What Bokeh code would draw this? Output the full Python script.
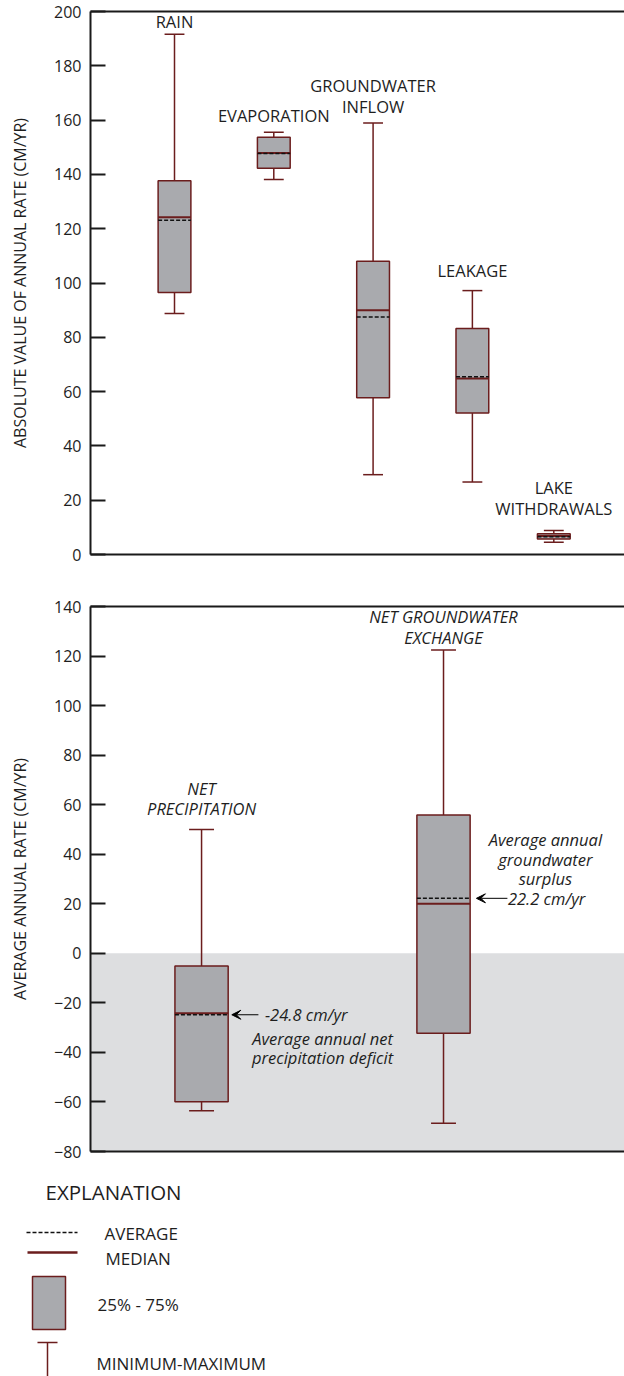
from bokeh.plotting import figure
from bokeh.models import Range1d, LinearAxis, FixedTicker, Arrow, VeeHead, BoxAnnotation, ColumnDataSource
from bokeh.layouts import column
from bokeh.transform import dodge
from bokeh.embed import file_html
from bokeh.resources import INLINE
from bokeh.core.properties import value

# ---------------- data ----------------
top_labels = ["RAIN", "EVAPORATION", "GROUNDWATER\nINFLOW", "LEAKAGE", "LAKE\nWITHDRAWALS"]
top_min = [88.8, 138.1, 29.4, 26.7, 4.5]
top_q1 = [96.5, 142.3, 57.7, 52.1, 5.7]
top_median = [124.2, 147.9, 90.0, 64.8, 6.8]
top_mean = [123.1, 147.7, 87.5, 65.5, 6.5]
top_q3 = [137.7, 153.7, 108.0, 83.2, 7.6]
top_max = [191.6, 155.5, 158.9, 97.2, 8.8]
top_ticks = [0, 20, 40, 60, 80, 100, 120, 140, 160, 180, 200]

bot_labels = ["NET\nPRECIPITATION", "NET GROUNDWATER\nEXCHANGE"]
bot_min = [-63.6, -68.6]
bot_q1 = [-59.9, -32.3]
bot_median = [-24.2, 20.0]
bot_mean = [-24.8, 22.2]
bot_q3 = [-5.1, 55.8]
bot_max = [50.0, 122.4]
bot_ticks = [-80, -60, -40, -20, 0, 20, 40, 60, 80, 100, 120, 140]

# ---------------- style ----------------
FONT = "Open Sans"
MAROON = "#6b1d1d"
BOX_FILL = "#a9aaae"
SHADE = "#dddee0"
TXT = "#1e1e1e"

top_pos = [1, 2, 3, 4, 4.82]
top_gap = [-1, -5, -5, -9, -11]
bot_pos = [1, 2]
bot_gap = [-9, -1]


def frame_line(p, where):
    ax = LinearAxis(ticker=FixedTicker(ticks=[]), axis_line_width=2, axis_line_color="#1a1a1a",
                    major_tick_line_color=None, minor_tick_line_color=None,
                    major_label_text_font_size="0px", major_label_standoff=0)
    p.add_layout(ax, where)


def style_y(p, ticks, label):
    ax = p.yaxis[0]
    ax.ticker = FixedTicker(ticks=ticks)
    ax.major_tick_in = 15
    ax.major_tick_out = 0
    ax.major_tick_line_width = 2
    ax.major_tick_line_color = "#1a1a1a"
    ax.minor_tick_line_color = None
    ax.axis_line_width = 2
    ax.axis_line_color = "#1a1a1a"
    ax.major_label_text_font = FONT
    ax.major_label_text_font_size = "16px"
    ax.major_label_text_color = TXT
    ax.major_label_standoff = 9
    ax.axis_label = label
    ax.axis_label_text_font = FONT
    ax.axis_label_text_font_size = "16px"
    ax.axis_label_text_font_style = "normal"
    ax.axis_label_text_color = TXT
    ax.axis_label_standoff = 20


def make_fig(height, xr, yr, top_border, bottom_border):
    p = figure(width=624, height=height, output_backend="svg", toolbar_location=None,
               x_range=xr, y_range=yr, x_axis_location=None,
               min_border_left=90, min_border_right=0,
               min_border_top=top_border, min_border_bottom=bottom_border)
    p.xgrid.visible = False
    p.ygrid.visible = False
    p.outline_line_color = None
    p.background_fill_color = "white"
    p.border_fill_color = "white"
    return p


def draw_boxes(p, src, bw, cw):
    p.segment(x0="x", y0="q3", x1="x", y1="max", source=src, line_color=MAROON, line_width=1.5)
    p.segment(x0="x", y0="min", x1="x", y1="q1", source=src, line_color=MAROON, line_width=1.5)
    p.segment(x0=dodge("x", -cw / 2), y0="max", x1=dodge("x", cw / 2), y1="max", source=src,
              line_color=MAROON, line_width=1.5)
    p.segment(x0=dodge("x", -cw / 2), y0="min", x1=dodge("x", cw / 2), y1="min", source=src,
              line_color=MAROON, line_width=1.5)
    p.vbar(x="x", width=bw, bottom="q1", top="q3", source=src, fill_color=BOX_FILL,
           line_color=MAROON, line_width=1.5)
    p.segment(x0=dodge("x", -bw / 2), y0="med", x1=dodge("x", bw / 2), y1="med", source=src,
              line_color=MAROON, line_width=2)
    p.segment(x0=dodge("x", -bw / 2), y0="mean", x1=dodge("x", bw / 2), y1="mean", source=src,
              line_color="#111111", line_width=1.5, line_dash="4 2")


# ---------------- top chart ----------------
p1 = make_fig(590, Range1d(0.154, 5.532), Range1d(0, 200), 11, 36)
style_y(p1, top_ticks, "ABSOLUTE VALUE OF ANNUAL RATE (CM/YR)")
frame_line(p1, "above")
frame_line(p1, "below")
src1 = ColumnDataSource(dict(x=top_pos, min=top_min, q1=top_q1, med=top_median, mean=top_mean,
                             q3=top_q3, max=top_max, label=top_labels, gap=top_gap))
draw_boxes(p1, src1, 0.33, 0.2)
p1.text(x="x", y="max", text="label", y_offset="gap", source=src1, text_align="center",
        text_baseline="bottom", text_font=value(FONT), text_font_size="16.5px", text_color=TXT,
        text_line_height=0.9)

# ---------------- bottom chart ----------------
p2 = make_fig(575, Range1d(0.541, 2.748), Range1d(-80, 140), 16, 14)
style_y(p2, bot_ticks, "AVERAGE ANNUAL RATE (CM/YR)")
frame_line(p2, "above")
frame_line(p2, "below")
p2.add_layout(BoxAnnotation(top=0, fill_color=SHADE, fill_alpha=1, line_color=None, level="underlay"))
src2 = ColumnDataSource(dict(x=bot_pos, min=bot_min, q1=bot_q1, med=bot_median, mean=bot_mean,
                             q3=bot_q3, max=bot_max, label=bot_labels, gap=bot_gap))
draw_boxes(p2, src2, 0.22, 0.103)
p2.text(x="x", y="max", text="label", y_offset="gap", source=src2, text_align="center",
        text_baseline="bottom", text_font=value(FONT), text_font_size="16.5px",
        text_font_style="italic", text_color=TXT, text_line_height=0.9)

# annotations
ann = dict(text_font=value(FONT), text_font_size="16.5px", text_font_style="italic", text_color=TXT)
p2.add_layout(Arrow(end=VeeHead(size=9, fill_color="black", line_color="black", line_width=1),
                    x_start=bot_pos[0] + 0.235, y_start=bot_mean[0], x_end=bot_pos[0] + 0.125,
                    y_end=bot_mean[0], line_width=1, line_color="black"))
p2.text(x=[bot_pos[0] + 0.262], y=[bot_mean[0]], text=[f"{bot_mean[0]} cm/yr"],
        text_align="left", text_baseline="middle", **ann)
p2.text(x=[bot_pos[0] + 0.50] * 2, y=[bot_mean[0]] * 2,
        text=["Average annual net", "precipitation deficit"], y_offset=[24, 43],
        text_align="center", text_baseline="middle", **ann)

p2.add_layout(Arrow(end=VeeHead(size=9, fill_color="black", line_color="black", line_width=1),
                    x_start=bot_pos[1] + 0.264, y_start=bot_mean[1], x_end=bot_pos[1] + 0.136,
                    y_end=bot_mean[1], line_width=1, line_color="black"))
p2.text(x=[bot_pos[1] + 0.266], y=[bot_mean[1]], text=[f"{bot_mean[1]} cm/yr"],
        text_align="left", text_baseline="middle", **ann)
p2.text(x=[bot_pos[1] + 0.421] * 3, y=[bot_mean[1]] * 3,
        text=["Average annual", "groundwater", "surplus"], y_offset=[-59, -39, -20],
        text_align="center", text_baseline="middle", **ann)

# ---------------- explanation ----------------
p3 = figure(width=624, height=211, output_backend="svg", toolbar_location=None,
            x_range=Range1d(0, 624), y_range=Range1d(211, 0), min_border=0,
            x_axis_location=None, y_axis_location=None)
p3.frame_align = False
p3.xgrid.visible = False
p3.ygrid.visible = False
p3.outline_line_color = None
leg = dict(text_font=value(FONT), text_color=TXT, text_baseline="middle", text_align="left")
p3.text(x=[45], y=[26], text=["EXPLANATION"], text_font_size="20.5px", **leg)
p3.segment(x0=[26], y0=[67], x1=[77], y1=[67], line_color="#111111", line_width=1.5, line_dash="4 2")
p3.text(x=[104], y=[68], text=["AVERAGE"], text_font_size="17px", **leg)
p3.segment(x0=[27], y0=[87], x1=[77], y1=[87], line_color=MAROON, line_width=2.5)
p3.text(x=[105], y=[93], text=["MEDIAN"], text_font_size="17px", **leg)
p3.quad(left=[32], right=[65], top=[111], bottom=[164], fill_color=BOX_FILL, line_color=MAROON,
        line_width=1.5)
p3.text(x=[97], y=[139], text=["25% - 75%"], text_font_size="17px", **leg)
p3.segment(x0=[37, 47], y0=[177, 177], x1=[57, 47], y1=[177, 211], line_color=MAROON, line_width=1.5)
p3.text(x=[96], y=[198], text=["MINIMUM-MAXIMUM"], text_font_size="17px", **leg)

layout = column(p1, p2, p3, spacing=0)
open("out.html", "w").write(file_html(layout, INLINE))
